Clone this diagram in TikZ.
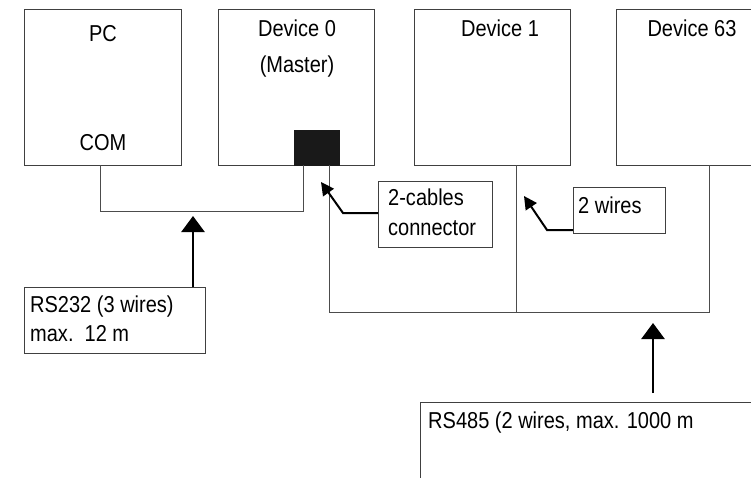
\documentclass[tikz,border=0pt]{standalone}
\usepackage{fontspec}
\setmainfont[FakeStretch=0.87]{Liberation Sans}
\usetikzlibrary{arrows.meta}
\begin{document}
\begin{tikzpicture}[x=1pt,y=-1pt,
  box/.style={draw=black!75, line width=0.9pt, anchor=north west, inner sep=0pt},
  wire/.style={draw=black!70, line width=0.9pt},
  lbl/.style={anchor=base west, inner sep=0pt, font=\fontsize{23}{26}\selectfont},
  title/.style={anchor=base, inner sep=0pt, font=\fontsize{23}{26}\selectfont},
  bigarrow/.style={line width=2.6pt, -{Triangle[width=23pt,length=16pt]}},
  smallarrow/.style={line width=2pt, -{Triangle[width=13pt,length=13pt]}}]
\useasboundingbox (0,0) rectangle (751,477);
% device boxes
\node[box, minimum width=157pt, minimum height=156pt] (pc) at (24,9) {};
\node[box, minimum width=156pt, minimum height=156pt] (d0) at (218,9) {};
\node[box, minimum width=156pt, minimum height=156pt] (d1) at (414,9) {};
\node[box, minimum width=180pt, minimum height=156pt] (d63) at (616,9) {};
\node[box, fill=black!90, draw=black!90, minimum width=45pt, minimum height=35pt] (conn) at (294,130) {};
% titles
\node[title] (tpc) at (103,41) {PC};
\node[title] (tcom) at (103,150) {COM};
\node[title] (td0) at (297,36) {Device 0};
\node[title] (tmas) at (297,72) {(Master)};
\node[title] (td1) at (500,36) {Device 1};
\node[title] (td63) at (692,36) {Device 63};
% label boxes
\node[box, minimum width=114pt, minimum height=66pt] (cab) at (378,181) {};
\node[lbl] (cab1) at (388,205) {2-cables};
\node[lbl] (cab2) at (388,235) {connector};
\node[box, minimum width=92pt, minimum height=46pt] (wir) at (573,187) {};
\node[lbl] (wir1) at (578,213) {2 wires};
\node[box, minimum width=181pt, minimum height=66pt] (rs232) at (24,287) {};
\node[lbl] (rs2321) at (30,312) {RS232 (3 wires)};
\node[lbl] (rs2322) at (30,341) {max.\ \ 12 m};
\node[box, minimum width=400pt, minimum height=120pt] (rs485) at (420,402) {};
\node[lbl] (rs4851) at (428,428) {RS485 (2 wires, max. 1000 m};
% wires
\coordinate (pcw) at (100,165);
\coordinate (c1) at (303,165);
\coordinate (c2) at (329,165);
\coordinate (d1w) at (516,165);
\coordinate (d63w) at (709,165);
\draw[wire] (pcw) -- (100,211) -- (303,211) -- (c1);
\draw[wire] (c2) -- (329,312) -- (709,312) -- (d63w);
\draw[wire] (d1w) -- (516,312);
% arrows
\coordinate (a1) at (193,216);
\coordinate (a2) at (653,323);
\draw[bigarrow] (rs232.north -| a1) -- (a1);
\draw[bigarrow] (653,393) -- (a2);
\coordinate (t1) at (321,182);
\coordinate (t2) at (524,196);
\draw[smallarrow] (cab.west |- 0,213) -- (343,213) -- (t1);
\draw[smallarrow] (wir.west |- 0,230) -- (547,230) -- (t2);
\end{tikzpicture}
\end{document}
